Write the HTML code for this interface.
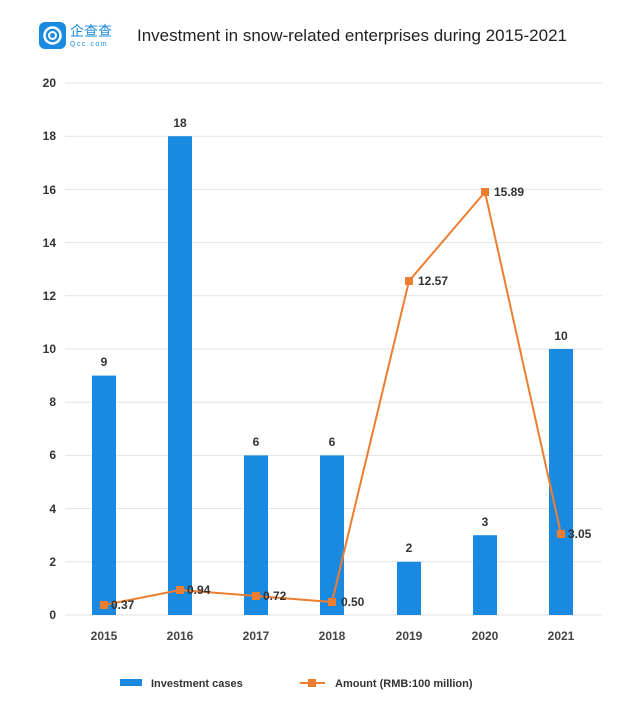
<!DOCTYPE html>
<html><head><meta charset="utf-8"><style>
html,body{margin:0;padding:0;background:#fff;}
svg{display:block;font-family:"Liberation Sans","Noto Sans CJK SC",sans-serif;}
</style></head><body>
<svg width="620" height="704" viewBox="0 0 620 704" xmlns="http://www.w3.org/2000/svg">
<rect width="620" height="704" fill="#fff"/>
<!-- logo -->
<rect x="39" y="22" width="27" height="27" rx="6" fill="#1a8ae0"/>
<circle cx="52.5" cy="35.5" r="8" fill="none" stroke="#fff" stroke-width="2.5"/>
<circle cx="52.5" cy="35.5" r="3.5" fill="none" stroke="#fff" stroke-width="2"/>
<text x="70" y="36" font-size="14" fill="#1a8ae0" font-family="'Noto Sans CJK SC',sans-serif">企查查</text>
<text x="70" y="46" font-size="7" fill="#1a8ae0" letter-spacing="1.5">Qcc.com</text>
<text x="137" y="41" font-size="17" fill="#222">Investment in snow-related enterprises during 2015-2021</text>
<!-- grid -->
<g stroke="#e2e2e2" stroke-width="1">
<line x1="65" x2="602" y1="83" y2="83"/><line x1="65" x2="602" y1="136.2" y2="136.2"/>
<line x1="65" x2="602" y1="189.4" y2="189.4"/><line x1="65" x2="602" y1="242.6" y2="242.6"/>
<line x1="65" x2="602" y1="295.8" y2="295.8"/><line x1="65" x2="602" y1="349" y2="349"/>
<line x1="65" x2="602" y1="402.2" y2="402.2"/><line x1="65" x2="602" y1="455.4" y2="455.4"/>
<line x1="65" x2="602" y1="508.6" y2="508.6"/><line x1="65" x2="602" y1="561.8" y2="561.8"/>
<line x1="65" x2="602" y1="615" y2="615"/>
</g>
<g font-size="12" font-weight="bold" fill="#333" text-anchor="end">
<text x="56" y="87">20</text><text x="56" y="140">18</text><text x="56" y="194">16</text>
<text x="56" y="247">14</text><text x="56" y="300">12</text><text x="56" y="353">10</text>
<text x="56" y="406">8</text><text x="56" y="459">6</text><text x="56" y="513">4</text>
<text x="56" y="566">2</text><text x="56" y="619">0</text>
</g>
<!-- bars -->
<g fill="#1a8ae0">
<rect x="92" y="375.6" width="24" height="239.4"/>
<rect x="168" y="136.2" width="24" height="478.8"/>
<rect x="244" y="455.4" width="24" height="159.6"/>
<rect x="320" y="455.4" width="24" height="159.6"/>
<rect x="397" y="561.8" width="24" height="53.2"/>
<rect x="473" y="535.2" width="24" height="79.8"/>
<rect x="549" y="349" width="24" height="266"/>
</g>
<g font-size="12" font-weight="bold" fill="#333" text-anchor="middle">
<text x="104" y="366">9</text><text x="180" y="127">18</text><text x="256" y="446">6</text>
<text x="332" y="446">6</text><text x="409" y="552">2</text><text x="485" y="526">3</text>
<text x="561" y="340">10</text>
</g>
<!-- line -->
<polyline points="104,605 180,590 256,596 332,602 409,281 485,192 561,534" fill="none" stroke="#ed7d31" stroke-width="2"/>
<g fill="#ed7d31">
<rect x="100" y="601" width="8" height="8"/><rect x="176" y="586" width="8" height="8"/>
<rect x="252" y="592" width="8" height="8"/><rect x="328" y="598" width="8" height="8"/>
<rect x="405" y="277" width="8" height="8"/><rect x="481" y="188" width="8" height="8"/>
<rect x="557" y="530" width="8" height="8"/>
</g>
<g font-size="12" font-weight="bold" fill="#333">
<text x="111" y="609">0.37</text><text x="187" y="594">0.94</text><text x="263" y="600">0.72</text>
<text x="341" y="606">0.50</text><text x="418" y="285">12.57</text><text x="494" y="196">15.89</text>
<text x="568" y="538">3.05</text>
</g>
<g font-size="12" font-weight="bold" fill="#444" text-anchor="middle">
<text x="104" y="640">2015</text><text x="180" y="640">2016</text><text x="256" y="640">2017</text>
<text x="332" y="640">2018</text><text x="409" y="640">2019</text><text x="485" y="640">2020</text>
<text x="561" y="640">2021</text>
</g>
<!-- legend -->
<rect x="120" y="679" width="22" height="7" fill="#1a8ae0"/>
<text x="151" y="687" font-size="11" font-weight="bold" fill="#333">Investment cases</text>
<line x1="300" x2="325" y1="683" y2="683" stroke="#ed7d31" stroke-width="2"/>
<rect x="308" y="679" width="8" height="8" fill="#ed7d31"/>
<text x="335" y="687" font-size="11" font-weight="bold" fill="#333">Amount (RMB:100 million)</text>
</svg>
</body></html>
